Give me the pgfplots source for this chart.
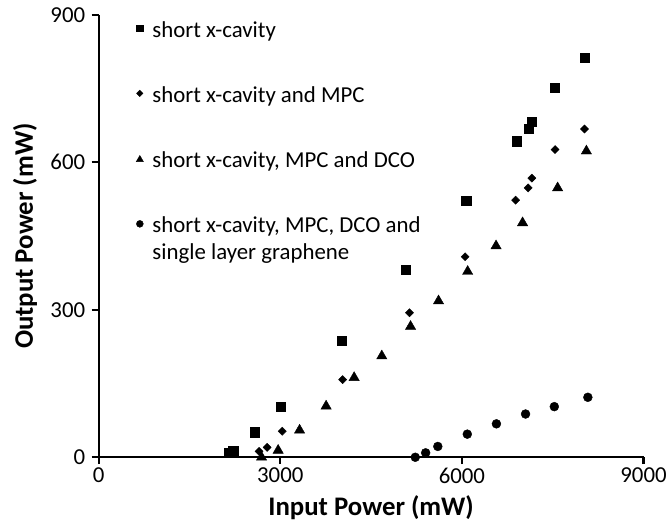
\documentclass[border=0pt]{standalone}
\usepackage{pgfplots}
\pgfplotsset{compat=1.18}
\usepackage{pgfplotstable}
\usepackage{fontspec}
\setmainfont{Carlito}
\pgfplotstableread{
x y
2149 9
2222 14
2582 51
3002 102
4019 237
5072 382
6071 522
6911 643
7106 668
7155 682
7538 752
8031 813
}\sqdata
\pgfplotstableread{
x y
2649 12
2783 20
3032 53
4031 158
5133 294
6053 408
6887 523
7094 548
7155 568
7538 626
8025 668
}\dmdata
\pgfplotstableread{
x y
2691 0
2965 14
3319 55
3757 104
4220 162
4677 206
5152 266
5614 318
6095 378
6564 430
7002 477
7581 548
8056 623
}\trdata
\pgfplotstableread{
x y
5230 0
5401 9
5602 22
6089 47
6570 68
7051 88
7526 103
8080 122
}\cidata
\begin{document}
\begin{tikzpicture}[x=1bp,y=1bp]
\begin{axis}[
  at={(0,0)}, anchor=south west,
  width=547bp, height=444bp, scale only axis,
  xmin=0, xmax=9000, ymin=0, ymax=900,
  xtick={0,3000,6000,9000}, ytick={0,300,600,900},
  axis lines=left, axis line style={-, line width=2.2bp, black},
  tick align=outside, major tick length=7bp,
  tick style={line width=2.2bp, black},
  ticklabel style={font=\fontsize{23}{27}\selectfont},
  yticklabel style={xshift=-3bp},
  /pgf/number format/assume math mode=true,
  scaled ticks=false, /pgf/number format/set thousands separator={},
  xlabel={Input Power (mW)}, ylabel={Output Power (mW)},
  label style={font=\fontsize{27}{32}\selectfont\bfseries},
  xlabel style={at={(axis description cs:0.5,-0.115)}, anchor=center},
  ylabel style={at={(axis description cs:-0.135,0.5)}, anchor=center},
  clip=false,
  legend style={draw=none, fill=none, at={(0.069,0.986)}, anchor=north west,
    inner sep=0pt, outer sep=0pt,
    nodes={inner sep=0pt, text height=16bp, text depth=5bp},
    font=\fontsize{23}{27}\selectfont, row sep=44.5bp, column sep=9bp},
  legend cell align=left,
]
\addplot[only marks, mark=square*, mark size=4.6, black, legend image post style={mark size=3.3, yshift=3.5bp}] table {\sqdata};
\addlegendentry{short x-cavity}
\addplot[only marks, mark=square*, mark size=2.9, mark options={rotate=45}, black, legend image post style={mark size=2.3, yshift=3.5bp}] table {\dmdata};
\addlegendentry{short x-cavity and MPC}
\addplot[only marks, mark=triangle*, mark size=6, black, legend image post style={mark size=4.2, yshift=2.5bp}] table {\trdata};
\addlegendentry{short x-cavity, MPC and DCO}
\addplot[only marks, mark=*, mark size=4.5, black, legend image post style={mark size=3.5, yshift=3.5bp}] table {\cidata};
\addlegendentry{\raisebox{0pt}[\height][0pt]{\begin{tabular}[t]{@{}l@{}}short x-cavity, MPC, DCO and\\single layer graphene\end{tabular}}}
\end{axis}
\path (-99,-74) rectangle (571,459);
\end{tikzpicture}
\end{document}
